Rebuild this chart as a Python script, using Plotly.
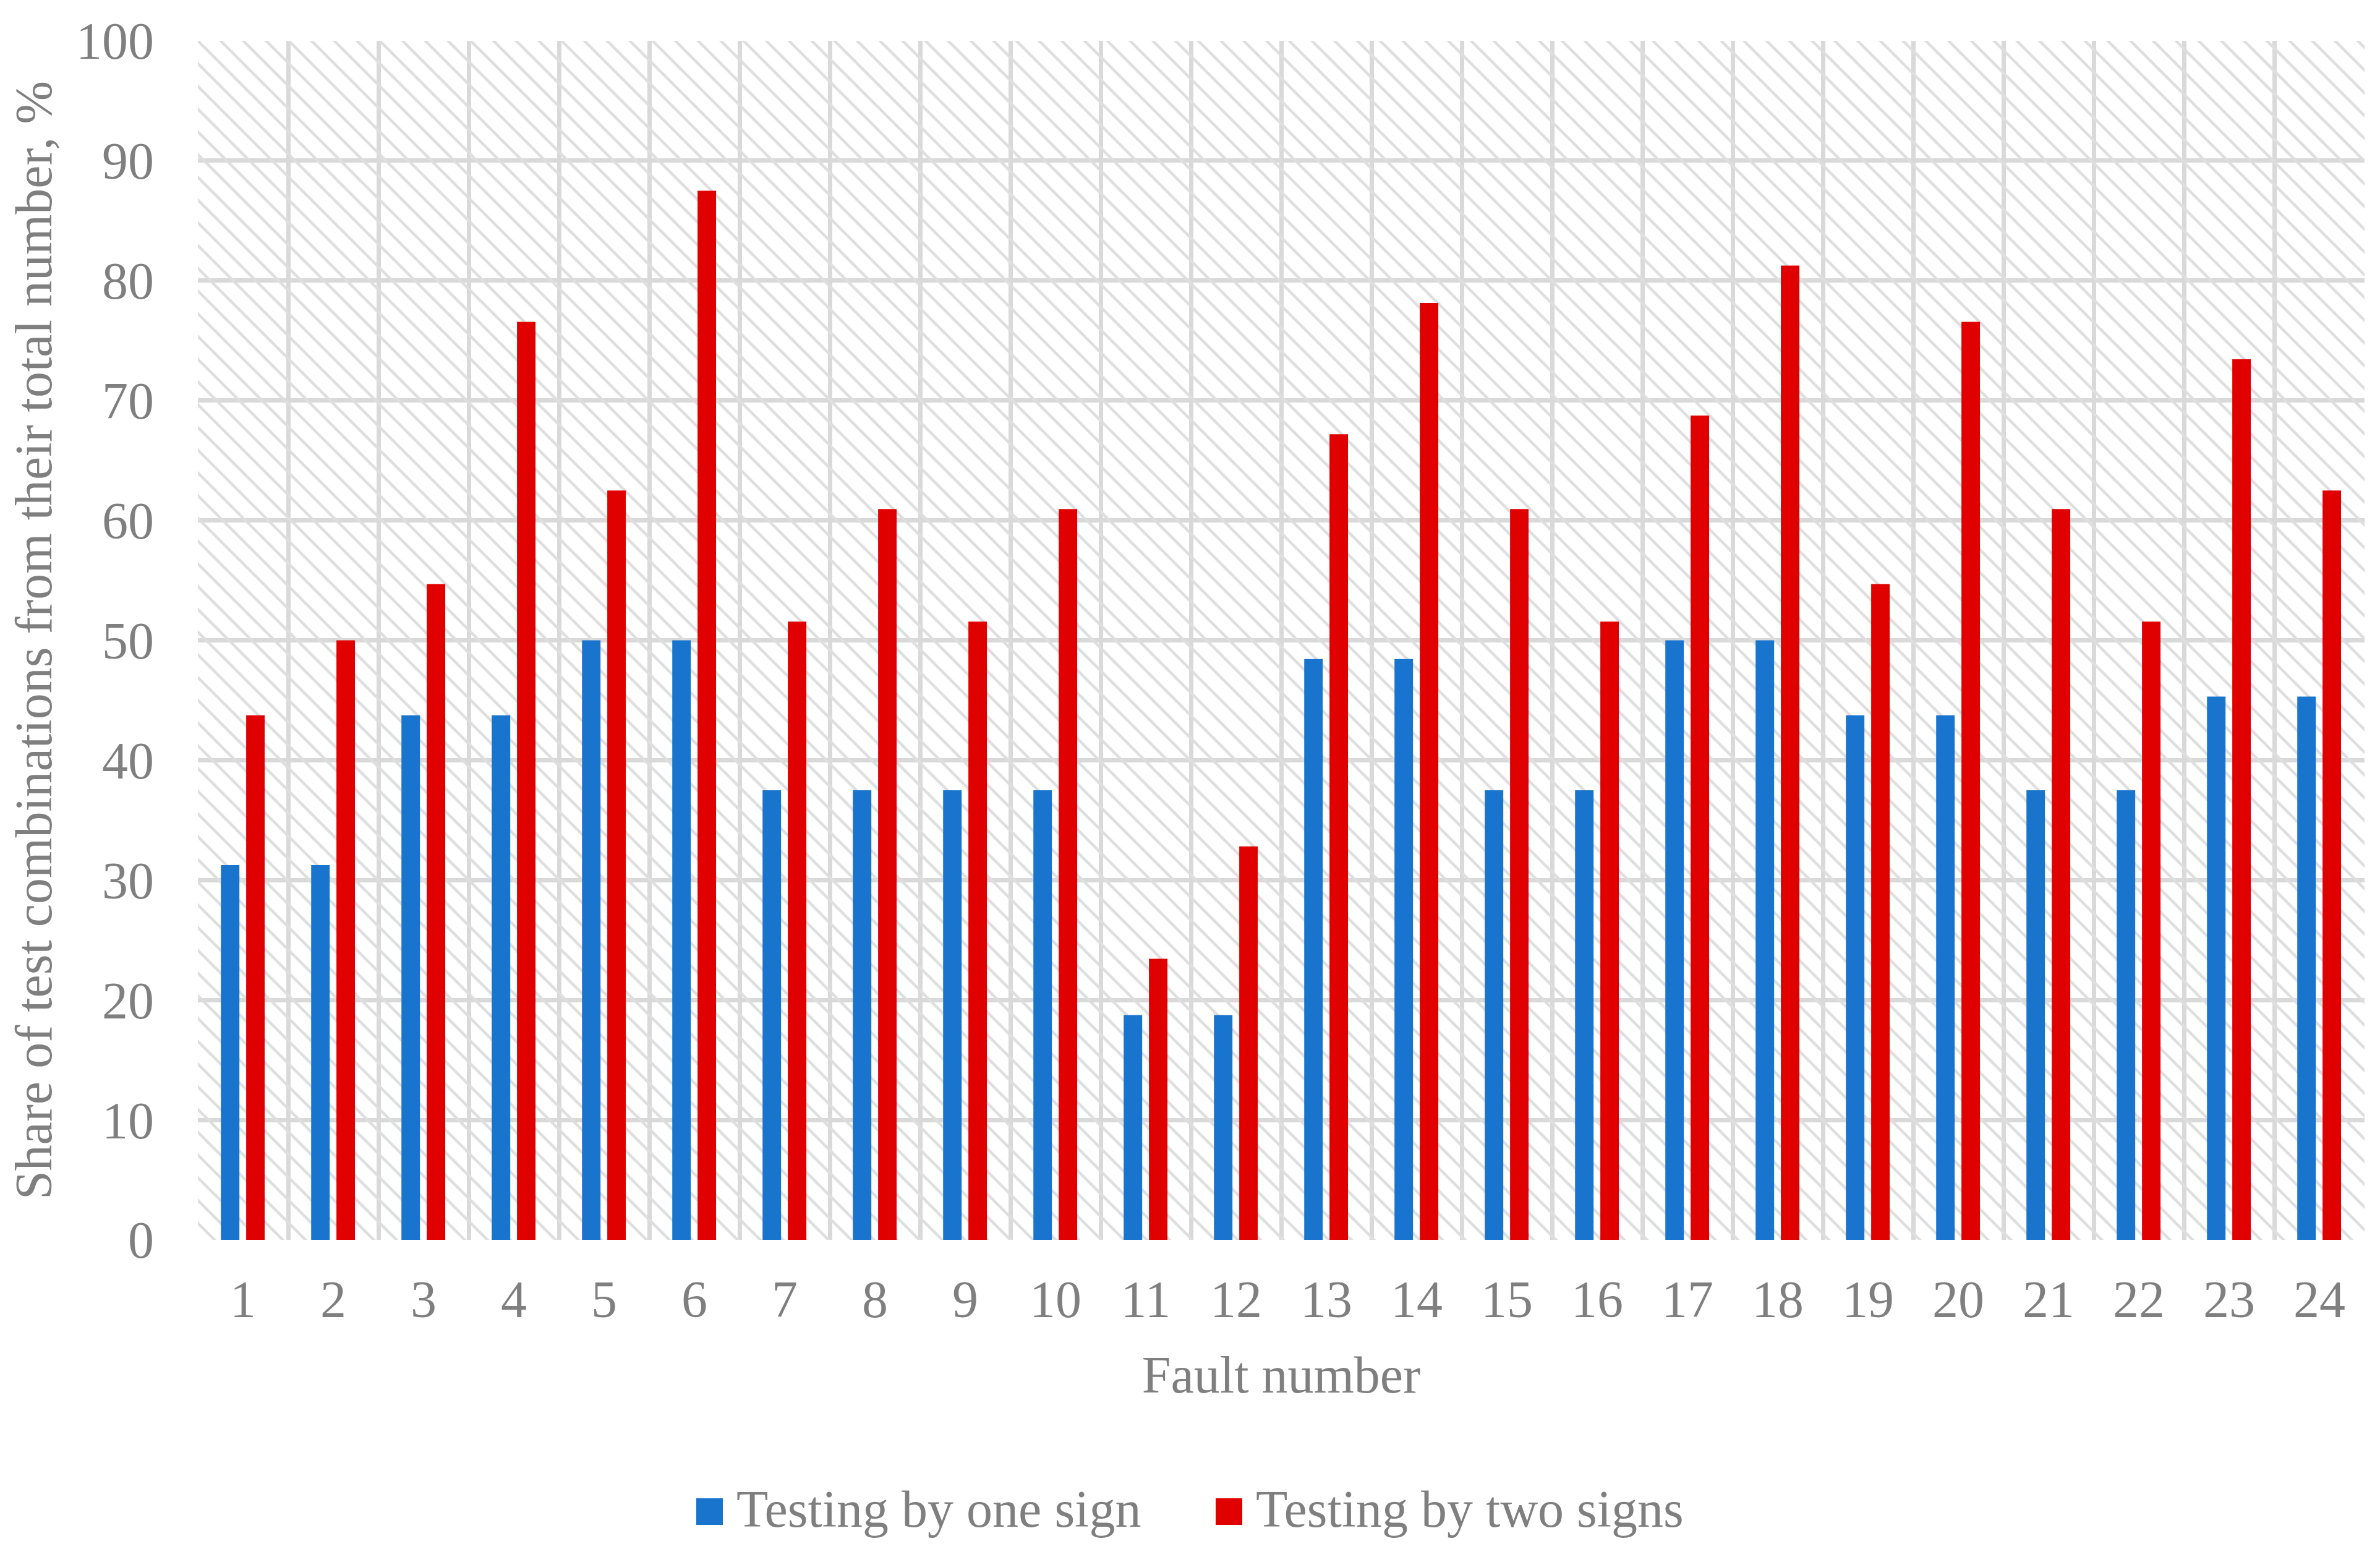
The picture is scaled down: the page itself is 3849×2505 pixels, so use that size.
import plotly.graph_objects as go

# ---------------- data ----------------
faults = list(range(1, 25))
one_sign = [31.25, 31.25, 43.75, 43.75, 50.0, 50.0, 37.5, 37.5, 37.5, 37.5, 18.75, 18.75,
            48.44, 48.44, 37.5, 37.5, 50.0, 50.0, 43.75, 43.75, 37.5, 37.5, 45.31, 45.31]
two_signs = [43.75, 50.0, 54.69, 76.56, 62.5, 87.5, 51.56, 60.94, 51.56, 60.94, 23.44, 32.81,
             67.19, 78.13, 60.94, 51.56, 68.75, 81.25, 54.69, 76.56, 60.94, 51.56, 73.44, 62.5]
series_names = ["Testing by one sign", "Testing by two signs"]
y_ticks = list(range(0, 101, 10))
x_title = "Fault number"
y_title = "Share of test combinations from their total number, %"

# ---------------- style ----------------
OFF = 8  # default page body margin
W, H = 3849 - OFF, 2505 - OFF
L, R, T, B = 320 - OFF, 25, 66 - OFF, 500
PW, PH = W - L - R, H - T - B
FONT = "Liberation Serif, Times New Roman, serif"
GRAY = "#7f7f7f"
GRID = "#d9d9d9"
BLUE = "#1874cd"
RED = "#e00000"
FS = 84


def px2x(px):
    """page pixel -> paper x"""
    return (px - OFF - L) / PW


def px2y(py):
    """page pixel -> paper y"""
    return (H - B - (py - OFF)) / PH


fig = go.Figure()

# hatched plot-area background (a single bar spanning the whole plot)
fig.add_trace(go.Bar(
    x=[(faults[0] + faults[-1]) / 2], y=[y_ticks[-1]], width=[len(faults)],
    marker=dict(color="#dedede", line=dict(width=0),
                pattern=dict(shape="\\", size=26, solidity=0.17, fillmode="replace")),
    hoverinfo="skip", showlegend=False,
))

fig.add_trace(go.Bar(
    x=faults, y=one_sign, name=series_names[0], width=0.205, offset=-0.245,
    marker=dict(color=BLUE, line=dict(width=0)), showlegend=False,
))
fig.add_trace(go.Bar(
    x=faults, y=two_signs, name=series_names[1], width=0.205, offset=0.035,
    marker=dict(color=RED, line=dict(width=0)), showlegend=False,
))

# manual legend (large squares like the original)
legend_items = [
    (series_names[0], BLUE, 1126, 1169, 1189),
    (series_names[1], RED, 1966, 2009, 2029),
]
shapes, annotations = [], []
for name, col, sx0, sx1, tx in legend_items:
    shapes.append(dict(type="rect", xref="paper", yref="paper",
                       x0=px2x(sx0), x1=px2x(sx1), y0=px2y(2466), y1=px2y(2423),
                       fillcolor=col, line=dict(width=0)))
    annotations.append(dict(text=name, xref="paper", yref="paper",
                            x=px2x(tx), y=px2y(2440), xanchor="left", yanchor="middle",
                            showarrow=False, font=dict(family=FONT, size=FS, color=GRAY)))

fig.update_layout(
    width=W, height=H,
    margin=dict(l=L, r=R, t=T, b=B, autoexpand=False),
    paper_bgcolor="white", plot_bgcolor="white",
    barmode="overlay",
    font=dict(family=FONT, size=FS, color=GRAY),
    shapes=shapes, annotations=annotations,
    showlegend=False,
)
fig.update_xaxes(
    range=[faults[0] - 0.5, faults[-1] + 0.5],
    tickmode="array", tickvals=faults, ticktext=[str(f) for f in faults],
    showgrid=False, zeroline=False, showline=False, ticks="",
    ticklabelstandoff=40,
    minor=dict(tick0=0.5, dtick=1, showgrid=True, gridcolor=GRID, gridwidth=7),
    tickfont=dict(family=FONT, size=FS, color=GRAY),
    title=dict(text=x_title, font=dict(family=FONT, size=FS, color=GRAY), standoff=46),
    automargin=False,
)
fig.update_yaxes(
    range=[y_ticks[0], y_ticks[-1]],
    tickmode="array", tickvals=y_ticks,
    showgrid=True, gridcolor=GRID, gridwidth=7,
    zeroline=False, showline=False, ticks="",
    ticklabelstandoff=70,
    tickfont=dict(family=FONT, size=FS, color=GRAY),
    title=dict(text=y_title, font=dict(family=FONT, size=FS, color=GRAY), standoff=40),
    automargin=False,
)

fig.write_html("out.html")
